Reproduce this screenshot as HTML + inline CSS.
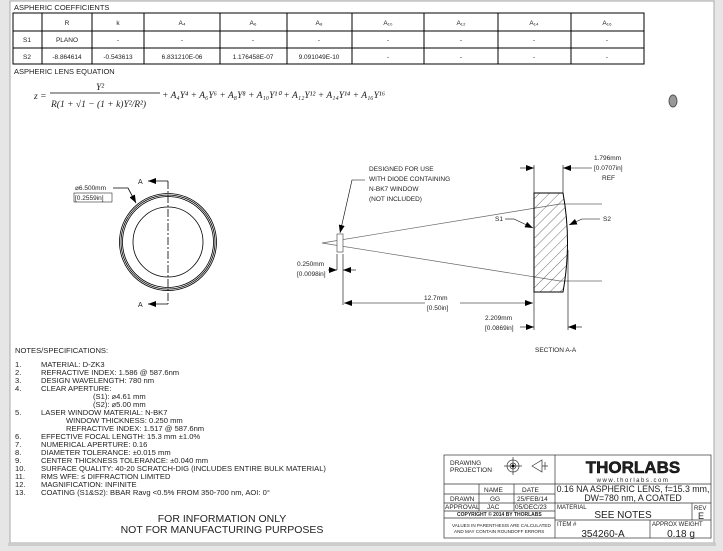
<!DOCTYPE html>
<html><head><meta charset="utf-8"><style>
body{margin:0;width:723px;height:551px;background:#e6e6e6;overflow:hidden}
svg{display:block}
text{font-family:"Liberation Sans",sans-serif;fill:#222}
</style></head><body>
<svg width="723" height="551" viewBox="0 0 723 551" xmlns="http://www.w3.org/2000/svg">
<defs>
<marker id="ar" markerWidth="8" markerHeight="6" refX="8" refY="3" orient="auto" markerUnits="userSpaceOnUse"><path d="M0,0 L8,3 L0,6z" fill="#000"/></marker>
<pattern id="hatch" width="7" height="7" patternUnits="userSpaceOnUse" patternTransform="rotate(45)"><line x1="0" y1="0" x2="0" y2="7" stroke="#333" stroke-width="0.7"/></pattern>
</defs>
<rect x="10" y="1" width="704" height="542" fill="#fff" stroke="#aaa"/>
<rect x="8" y="543" width="708" height="3" fill="#ccc"/>
<text x="14" y="10" font-size="7.5">ASPHERIC COEFFICIENTS</text>
<g stroke="#000" stroke-width="1" fill="none">
<rect x="13" y="13" width="631" height="51"/>
<line x1="13" y1="31" x2="644" y2="31"/><line x1="13" y1="48" x2="644" y2="48"/>
<line x1="42" y1="13" x2="42" y2="64"/><line x1="92" y1="13" x2="92" y2="64"/><line x1="144" y1="13" x2="144" y2="64"/><line x1="220" y1="13" x2="220" y2="64"/><line x1="287" y1="13" x2="287" y2="64"/><line x1="352" y1="13" x2="352" y2="64"/><line x1="424" y1="13" x2="424" y2="64"/><line x1="498" y1="13" x2="498" y2="64"/><line x1="571" y1="13" x2="571" y2="64"/>
</g>
<g font-size="6.5" text-anchor="middle">
<text x="67" y="25">R</text><text x="118" y="25">k</text><text x="182" y="25">A₄</text><text x="253" y="25">A₆</text><text x="319" y="25">A₈</text><text x="388" y="25">A₁₀</text><text x="461" y="25">A₁₂</text><text x="534" y="25">A₁₄</text><text x="607" y="25">A₁₆</text>
<text x="27" y="42">S1</text><text x="67" y="42">PLANO</text><text x="118" y="42">-</text><text x="182" y="42">-</text><text x="253" y="42">-</text><text x="319" y="42">-</text><text x="388" y="42">-</text><text x="461" y="42">-</text><text x="534" y="42">-</text><text x="607" y="42">-</text>
<text x="27" y="59">S2</text><text x="67" y="59">-8.864614</text><text x="118" y="59">-0.543613</text><text x="182" y="59">6.831210E-06</text><text x="253" y="59">1.176458E-07</text><text x="319" y="59">9.091049E-10</text><text x="388" y="59">-</text><text x="461" y="59">-</text><text x="534" y="59">-</text><text x="607" y="59">-</text>
</g>
<text x="14" y="74" font-size="7.5">ASPHERIC LENS EQUATION</text>
<g font-style="italic" font-size="9.5">
<text x="34" y="99" style="font-family:'Liberation Serif',serif">z =</text>
<text x="96" y="90" style="font-family:'Liberation Serif',serif">Y²</text>
<line x1="50" y1="93" x2="160" y2="93" stroke="#000" stroke-width="0.7"/>
<text x="51" y="107" style="font-family:'Liberation Serif',serif">R(1 + √1 − (1 + k)Y²/R²)</text>
<text x="162" y="98" style="font-family:'Liberation Serif',serif">+ A₄Y⁴ + A₆Y⁶ + A₈Y⁸ + A₁₀Y¹⁰ + A₁₂Y¹² + A₁₄Y¹⁴ + A₁₆Y¹⁶</text>
</g>
<ellipse cx="673" cy="101" rx="4" ry="6" fill="#999" stroke="#555"/>
<g fill="none" stroke="#000" stroke-width="0.8">
<circle cx="168" cy="242" r="48.5"/><circle cx="168" cy="242" r="47"/><circle cx="168" cy="242" r="45.5"/>
<circle cx="168" cy="242" r="35"/>
<line x1="168" y1="181" x2="168" y2="304" stroke-dasharray="8,2,2,2"/>
<line x1="168" y1="181" x2="148" y2="181" marker-end="url(#ar)"/>
<line x1="168" y1="304" x2="148" y2="304" marker-end="url(#ar)"/>
<polyline points="113,188 128,188 136,203" marker-end="url(#ar)"/>
</g>
<text x="138" y="184" font-size="7">A</text><text x="138" y="307" font-size="7">A</text>
<text x="75" y="190" font-size="6.5">⌀6.500mm</text>
<text x="75" y="200" font-size="6.5">[0.2559in]</text>
<rect x="74" y="193" width="38" height="9" fill="none" stroke="#000" stroke-width="0.5"/>
<g fill="none" stroke="#666" stroke-width="0.7">
<line x1="322" y1="243" x2="560" y2="204"/><line x1="560" y1="204" x2="602" y2="204"/>
<line x1="322" y1="243" x2="560" y2="281"/><line x1="560" y1="281" x2="602" y2="281"/>
</g>
<path d="M534,193 L563,193 Q572,242 563,292 L534,292 Z" fill="url(#hatch)" stroke="#000" stroke-width="1"/>
<rect x="337" y="234" width="6" height="18" fill="#fff" stroke="#555" stroke-width="0.7"/>
<g font-size="6.5">
<text x="369" y="171">DESIGNED FOR USE</text><text x="369" y="181">WITH DIODE CONTAINING</text><text x="369" y="191">N-BK7 WINDOW</text><text x="369" y="201">(NOT INCLUDED)</text>
<text x="594" y="160">1.796mm</text><text x="594" y="170">[0.0707in]</text><text x="602" y="180">REF</text>
<text x="495" y="221">S1</text><text x="603" y="221">S2</text>
<text x="297" y="266">0.250mm</text><text x="297" y="276">[0.0098in]</text>
<text x="424" y="300">12.7mm</text><text x="427" y="310">[0.50in]</text>
<text x="485" y="320">2.209mm</text><text x="485" y="330">[0.0869in]</text>
<text x="535" y="352">SECTION A-A</text>
</g>
<g fill="none" stroke="#000" stroke-width="0.6">
<polyline points="365,180 352,180 340,233" marker-end="url(#ar)"/>
<line x1="534" y1="165" x2="534" y2="193"/><line x1="563" y1="165" x2="563" y2="193"/>
<line x1="520" y1="168" x2="534" y2="168" marker-end="url(#ar)"/><line x1="592" y1="168" x2="563" y2="168" marker-end="url(#ar)"/>
<line x1="505" y1="219" x2="514" y2="219"/><line x1="514" y1="219" x2="533" y2="228" marker-end="url(#ar)"/>
<line x1="600" y1="219" x2="582" y2="219"/><line x1="582" y1="219" x2="569" y2="225" marker-end="url(#ar)"/>
<line x1="337" y1="254" x2="337" y2="270"/><line x1="343" y1="254" x2="343" y2="305"/>
<line x1="328" y1="270" x2="337" y2="270" marker-end="url(#ar)"/><line x1="356" y1="270" x2="343" y2="270" marker-end="url(#ar)"/>
<line x1="534" y1="292" x2="534" y2="330"/><line x1="568" y1="250" x2="568" y2="330"/>
<line x1="425" y1="303" x2="344" y2="303" marker-end="url(#ar)"/><line x1="460" y1="303" x2="533" y2="303" marker-end="url(#ar)"/>
<line x1="520" y1="327" x2="534" y2="327" marker-end="url(#ar)"/><line x1="582" y1="327" x2="568" y2="327" marker-end="url(#ar)"/>
</g>
<g font-size="7.6">
<text x="15" y="353">NOTES/SPECIFICATIONS:</text>
<text x="15" y="367">1.</text><text x="41" y="367">MATERIAL: D-ZK3</text>
<text x="15" y="375">2.</text><text x="41" y="375">REFRACTIVE INDEX: 1.586 @ 587.6nm</text>
<text x="15" y="383">3.</text><text x="41" y="383">DESIGN WAVELENGTH: 780 nm</text>
<text x="15" y="391">4.</text><text x="41" y="391">CLEAR APERTURE:</text>
<text x="93" y="399">(S1): ⌀4.61 mm</text>
<text x="93" y="407">(S2): ⌀5.00 mm</text>
<text x="15" y="415">5.</text><text x="41" y="415">LASER WINDOW MATERIAL: N-BK7</text>
<text x="66" y="423">WINDOW THICKNESS: 0.250 mm</text>
<text x="66" y="431">REFRACTIVE INDEX: 1.517 @ 587.6nm</text>
<text x="15" y="439">6.</text><text x="41" y="439">EFFECTIVE FOCAL LENGTH: 15.3 mm ±1.0%</text>
<text x="15" y="447">7.</text><text x="41" y="447">NUMERICAL APERTURE: 0.16</text>
<text x="15" y="455">8.</text><text x="41" y="455">DIAMETER TOLERANCE: ±0.015 mm</text>
<text x="15" y="463">9.</text><text x="41" y="463">CENTER THICKNESS TOLERANCE: ±0.040 mm</text>
<text x="15" y="471">10.</text><text x="41" y="471">SURFACE QUALITY: 40-20 SCRATCH-DIG (INCLUDES ENTIRE BULK MATERIAL)</text>
<text x="15" y="479">11.</text><text x="41" y="479">RMS WFE: ≤ DIFFRACTION LIMITED</text>
<text x="15" y="487">12.</text><text x="41" y="487">MAGNIFICATION: INFINITE</text>
<text x="15" y="495">13.</text><text x="41" y="495">COATING (S1&amp;S2): BBAR Ravg &lt;0.5% FROM 350-700 nm, AOI: 0°</text>
</g>
<g font-size="10.5" text-anchor="middle">
<text x="222" y="522">FOR INFORMATION ONLY</text>
<text x="222" y="533">NOT FOR MANUFACTURING PURPOSES</text>
</g>
<g fill="none" stroke="#333" stroke-width="0.7">
<rect x="444" y="455" width="267" height="83"/>
<line x1="555" y1="455" x2="555" y2="538"/>
<line x1="444" y1="484" x2="711" y2="484"/>
<line x1="444" y1="494" x2="555" y2="494"/>
<line x1="444" y1="503" x2="711" y2="503"/>
<line x1="444" y1="511" x2="555" y2="511"/>
<line x1="444" y1="518" x2="555" y2="518"/>
<line x1="555" y1="520" x2="711" y2="520"/>
<line x1="479" y1="484" x2="479" y2="511"/><line x1="514" y1="484" x2="514" y2="511"/>
<line x1="692" y1="503" x2="692" y2="520"/><line x1="650" y1="520" x2="650" y2="538"/>
<circle cx="513" cy="466" r="6"/><circle cx="513" cy="466" r="3"/>
<line x1="504" y1="466" x2="522" y2="466"/><line x1="513" y1="457" x2="513" y2="475"/>
<path d="M532,466 L542,460 L542,472 Z M542,466 L548,466 M545,462 L545,470"/>
</g>
<circle cx="513" cy="466" r="1.5" fill="#000"/>
<g font-size="6.5" fill="#333">
<text x="450" y="465">DRAWING</text><text x="450" y="472">PROJECTION</text>
<text x="484" y="492">NAME</text><text x="522" y="492">DATE</text>
<text x="450" y="501">DRAWN</text><text x="490" y="501">GG</text><text x="517" y="501">25/FEB/14</text>
<text x="445" y="509">APPROVAL</text><text x="487" y="509">JAC</text><text x="515" y="509">05/DEC/23</text>
<text x="457" y="516" font-size="5" font-weight="bold">COPYRIGHT © 2014 BY THORLABS</text>
<text x="452" y="527" font-size="4.6">VALUES IN PARENTHESIS ARE CALCULATED</text>
<text x="454" y="533" font-size="4.6">AND MAY CONTAIN ROUNDOFF ERRORS</text>
<text x="557" y="509" font-size="6">MATERIAL</text><text x="694" y="510" font-size="6">REV</text>
<text x="557" y="526" font-size="6">ITEM #</text><text x="652" y="526" font-size="6">APPROX WEIGHT</text>
</g>
<text x="633" y="473" font-size="17" font-weight="bold" text-anchor="middle" stroke="#000" stroke-width="0.5">THORLABS</text>
<text x="633" y="482" font-size="6" text-anchor="middle" letter-spacing="1.5">www.thorlabs.com</text>
<text x="633" y="492" font-size="8.8" text-anchor="middle">0.16 NA ASPHERIC LENS, f=15.3 mm,</text>
<text x="633" y="501" font-size="8.8" text-anchor="middle">DW=780 nm, A COATED</text>
<text x="623" y="518" font-size="10" text-anchor="middle">SEE NOTES</text>
<text x="701" y="519" font-size="9" text-anchor="middle">E</text>
<text x="603" y="537" font-size="10" text-anchor="middle">354260-A</text>
<text x="681" y="537" font-size="10" text-anchor="middle">0.18 g</text>
</svg>
</body></html>
